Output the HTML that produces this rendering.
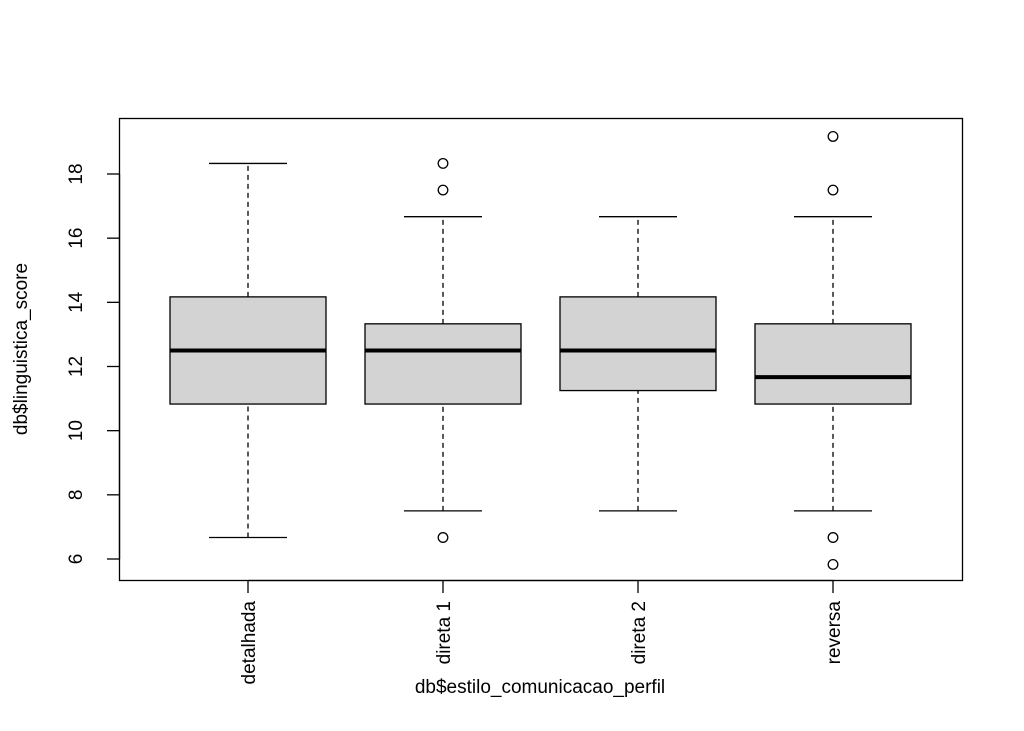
<!DOCTYPE html>
<html><head><meta charset="utf-8"><style>
body{margin:0;background:#fff;}
svg{display:block;font-family:"Liberation Sans",Arial,sans-serif;}
</style></head><body>
<svg id="chart" width="1024" height="731" viewBox="0 0 1024 731">
<rect x="119.5" y="118.5" width="843" height="462" fill="none" stroke="#000" stroke-width="1.3"/>
<g id="yaxis"></g>
<g id="boxes"></g>
<g id="xaxis"></g>
<text x="27" y="349" transform="rotate(-90 27 349)" text-anchor="middle" font-size="19">db$linguistica_score</text>
<text x="540" y="693" text-anchor="middle" font-size="19">db$estilo_comunicacao_perfil</text>
</svg>
<script>
const categories=["detalhada","direta 1","direta 2","reversa"];
const whiskLow=[6.67,7.5,7.5,7.5];
const q1=[10.83,10.83,11.25,10.83];
const medians=[12.5,12.5,12.5,11.67];
const q3=[14.17,13.33,14.17,13.33];
const whiskHigh=[18.33,16.67,16.67,16.67];
const outliers=[[],[18.33,17.5,6.67],[],[19.17,17.5,6.67,5.83]];
const yTicks=[6,8,10,12,14,16,18];
const NS="http://www.w3.org/2000/svg";
function y(v){return 559-(v-6)*(559-174)/12;}
function x(i){return 248+i*195;}
function mk(tag,attrs,parent){const e=document.createElementNS(NS,tag);for(const k in attrs)e.setAttribute(k,attrs[k]);parent.appendChild(e);return e;}
const ya=document.getElementById('yaxis');
mk('line',{x1:119.5,x2:119.5,y1:y(6),y2:y(18),stroke:'#000','stroke-width':1.3},ya);
yTicks.forEach(t=>{
  mk('line',{x1:107,x2:119.5,y1:y(t),y2:y(t),stroke:'#000','stroke-width':1.3},ya);
  const tx=mk('text',{x:82,y:y(t),transform:`rotate(-90 82 ${y(t)})`,'text-anchor':'middle','font-size':19},ya);
  
  
  tx.textContent=t;
});
const bx=document.getElementById('boxes');
const xa=document.getElementById('xaxis');
const hw=78, cw=39;
categories.forEach((c,i)=>{
  const cx=x(i);
  const g=mk('g',{},bx);
  
  
  mk('line',{x1:cx,x2:cx,y1:y(whiskLow[i]),y2:y(q1[i]),stroke:'#000','stroke-width':1.3,'stroke-dasharray':'5,4'},g);
  mk('line',{x1:cx,x2:cx,y1:y(q3[i]),y2:y(whiskHigh[i]),stroke:'#000','stroke-width':1.3,'stroke-dasharray':'5,4'},g);
  mk('line',{x1:cx-cw,x2:cx+cw,y1:y(whiskLow[i]),y2:y(whiskLow[i]),stroke:'#000','stroke-width':1.3},g);
  mk('line',{x1:cx-cw,x2:cx+cw,y1:y(whiskHigh[i]),y2:y(whiskHigh[i]),stroke:'#000','stroke-width':1.3},g);
  mk('rect',{x:cx-hw,y:y(q3[i]),width:2*hw,height:y(q1[i])-y(q3[i]),fill:'#d3d3d3',stroke:'#000','stroke-width':1.3},g);
  mk('line',{x1:cx-hw,x2:cx+hw,y1:y(medians[i]),y2:y(medians[i]),stroke:'#000','stroke-width':4},g);
  outliers[i].forEach(o=>{
    const p=mk('circle',{cx:cx,cy:y(o),r:4.8,fill:'none',stroke:'#000','stroke-width':1.3},g);
    
    
  });
  mk('line',{x1:cx,x2:cx,y1:580.5,y2:593,stroke:'#000','stroke-width':1.3},xa);
  const t=mk('text',{x:cx+7,y:601,transform:`rotate(-90 ${cx+7} 601)`,'text-anchor':'end','font-size':19},xa);
  
  
  t.textContent=c;
});
mk('line',{x1:x(0),x2:x(3),y1:580.5,y2:580.5,stroke:'#000','stroke-width':1.3},xa);
</script>
</body></html>
